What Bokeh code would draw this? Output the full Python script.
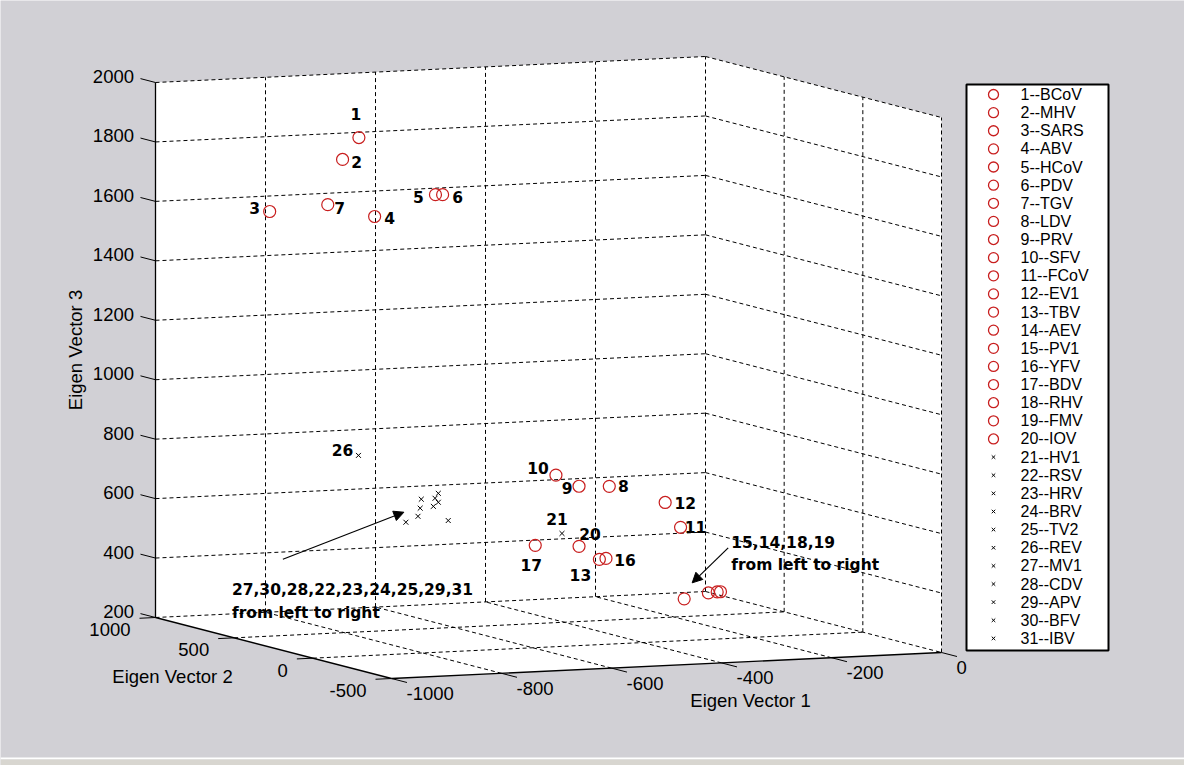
import numpy as np
from bokeh.plotting import figure
from bokeh.models import Range1d, Arrow, NormalHead
from bokeh.embed import file_html
from bokeh.resources import INLINE
from bokeh.core.properties import value

# ---------------- data ----------------
ids = list(range(1, 32))
names = ["BCoV", "MHV", "SARS", "ABV", "HCoV", "PDV", "TGV", "LDV", "PRV", "SFV",
         "FCoV", "EV1", "TBV", "AEV", "PV1", "YFV", "BDV", "RHV", "FMV", "IOV",
         "HV1", "RSV", "HRV", "BRV", "TV2", "REV", "MV1", "CDV", "APV", "BFV", "IBV"]
eigen1 = [-716, -760, -821, -716, -634, -621, -744, -461, -516, -558,
          -360, -388, -479, -195, -239, -467, -567, -179, -173, -516,
          -547, -717, -695, -692, -686, -774, -745, -719, -686, -723, -668]
eigen2 = [700, 650, 900, 600, 500, 500, 800, 0, 0, 0,
          -100, -100, 0, 300, 300, 0, 100, 300, 300, 0,
          0, 300, 300, 300, 300, 500, 300, 300, 300, 300, 300]
eigen3 = [1831, 1768, 1564, 1579, 1659, 1658, 1594, 731, 736, 777,
          598, 684, 487, 308, 292, 489, 528, 310, 310, 534,
          580, 669, 643, 670, 686, 794, 594, 639, 656, 612, 593]
n_circle = 20  # first 20 viruses drawn as circles, the rest as crosses

x_ticks = [-1000, -800, -600, -400, -200, 0]
y_ticks = [-500, 0, 500, 1000]
z_ticks = [200, 400, 600, 800, 1000, 1200, 1400, 1600, 1800, 2000]
X_LIM = (-1000, 0)
Y_LIM = (-500, 1000)
Z_LIM = (200, 2000)

cluster_a = [27, 30, 28, 22, 23, 24, 25, 29, 31]
cluster_b = [15, 14, 18, 19]

# labelled points and their label offsets (screen px)
label_ids = [1, 2, 3, 4, 5, 6, 7, 8, 9, 10, 11, 12, 13, 16, 17, 20, 21, 26]
label_dx = [-3, 14, -15, 15, -17, 15, 12, 14, -12, -18, 15, 20, -19, 19, -4, 11, -5, -16]
label_dy = [-24, 3, -4, 1, 2, 2, 3, 0, 2, -7, 0, 1, 16, 2, 20, -12, -14, -5]

# ---------------- projection (MATLAB-like 3-D view) ----------------
ORIGIN = (391.0, 678.0)
EU = (550.0, -26.0)
EV = (-236.0, -61.0)
EW = (0.0, -535.0)


def P(x, y, z):
    x = np.asarray(x, float); y = np.asarray(y, float); z = np.asarray(z, float)
    u = (x - X_LIM[0]) / (X_LIM[1] - X_LIM[0])
    v = (y - Y_LIM[0]) / (Y_LIM[1] - Y_LIM[0])
    w = (z - Z_LIM[0]) / (Z_LIM[1] - Z_LIM[0])
    sx = ORIGIN[0] + u * EU[0] + v * EV[0] + w * EW[0]
    sy = ORIGIN[1] + u * EU[1] + v * EV[1] + w * EW[1]
    return sx, sy


GRAY = "#d1d0d5"
RED = "#c81e1e"
TICK_FONT = value("Liberation Sans")
BOLD_FONT = value("DejaVu Sans")

W, H = 1184, 765
p = figure(width=W, height=H, x_range=Range1d(0, W), y_range=Range1d(H, 0),
           output_backend="svg", toolbar_location=None, x_axis_type=None, y_axis_type=None,
           min_border=0, background_fill_color=GRAY, border_fill_color=GRAY)
p.grid.visible = False
p.outline_line_color = None

xmin, xmax = X_LIM
ymin, ymax = Y_LIM
zmin, zmax = Z_LIM

# white back planes
corners = [(xmin, ymax, zmax), (xmax, ymax, zmax), (xmax, ymin, zmax),
           (xmax, ymin, zmin), (xmin, ymin, zmin), (xmin, ymax, zmin)]
hx, hy = zip(*[P(*c) for c in corners])
p.patch(list(map(float, hx)), list(map(float, hy)), fill_color="white", line_color=None)

# grid lines
gx, gy = [], []


def seg(a, b, xs, ys):
    pa, pb = P(*a), P(*b)
    xs.append([float(pa[0]), float(pb[0])])
    ys.append([float(pa[1]), float(pb[1])])


for zt in z_ticks:
    seg((xmin, ymax, zt), (xmax, ymax, zt), gx, gy)
    seg((xmax, ymax, zt), (xmax, ymin, zt), gx, gy)
for xt in x_ticks[1:]:
    seg((xt, ymax, zmin), (xt, ymax, zmax), gx, gy)
for yt in y_ticks[:-1]:
    seg((xmax, yt, zmin), (xmax, yt, zmax), gx, gy)
for xt in x_ticks[1:-1]:
    seg((xt, ymin, zmin), (xt, ymax, zmin), gx, gy)
for yt in y_ticks[1:-1]:
    seg((xmin, yt, zmin), (xmax, yt, zmin), gx, gy)
p.multi_line(gx, gy, line_color="black", line_width=1, line_dash="4 3")

# axis lines
ax, ay = [], []
seg((xmin, ymax, zmin), (xmin, ymax, zmax), ax, ay)
seg((xmin, ymax, zmin), (xmin, ymin, zmin), ax, ay)
seg((xmin, ymin, zmin), (xmax, ymin, zmin), ax, ay)
p.multi_line(ax, ay, line_color="black", line_width=1.3)

# ticks
nu = np.hypot(*EU); nv = np.hypot(*EV)
du = (EU[0] / nu, EU[1] / nu)
dv = (EV[0] / nv, EV[1] / nv)
tx, ty = [], []
zx, zy = P([xmin] * len(z_ticks), [ymax] * len(z_ticks), z_ticks)
for a, b in zip(zx, zy):
    tx.append([a, a + 15.5 * dv[0]]); ty.append([b, b + 15.5 * dv[1]])
yx, yy = P([xmin] * len(y_ticks), y_ticks, [zmin] * len(y_ticks))
for a, b in zip(yx, yy):
    tx.append([a, a - 16 * du[0]]); ty.append([b, b - 16 * du[1]])
xx, xy = P(x_ticks, [ymin] * len(x_ticks), [zmin] * len(x_ticks))
for a, b in zip(xx, xy):
    tx.append([a, a - 16 * dv[0]]); ty.append([b, b - 16 * dv[1]])
p.multi_line(tx, ty, line_color="black", line_width=1)

# tick labels
p.text(x=zx - 21.5, y=zy - 6, text=[str(t) for t in z_ticks], text_align="right",
       text_baseline="middle", text_font=TICK_FONT, text_font_size="18.5px", text_color="black")
p.text(x=yx - 25, y=yy + 12, text=[str(t) for t in y_ticks], text_align="right",
       text_baseline="middle", text_font=TICK_FONT, text_font_size="18.5px", text_color="black")
p.text(x=xx + 15, y=xy + 15, text=[str(t) for t in x_ticks], text_align="left",
       text_baseline="middle", text_font=TICK_FONT, text_font_size="18.5px", text_color="black")

# axis titles
mx1, my1 = P((xmin + xmax) / 2, ymin, zmin)
mx2, my2 = P(xmin, (ymin + ymax) / 2, zmin)
mx3, my3 = P(xmin, ymax, (zmin + zmax) / 2)
p.text(x=[float(mx1) + 84], y=[float(my1) + 35], text=["Eigen Vector 1"], text_align="center",
       text_baseline="middle", text_font=TICK_FONT, text_font_size="18.5px")
p.text(x=[float(mx2) - 101], y=[float(my2) + 28], text=["Eigen Vector 2"], text_align="center",
       text_baseline="middle", text_font=TICK_FONT, text_font_size="18.5px")
p.text(x=[float(mx3) - 80], y=[float(my3)], text=["Eigen Vector 3"], text_align="center",
       text_baseline="middle", text_font=TICK_FONT, text_font_size="18.5px", angle=np.pi / 2)

# data points
sx, sy = P(eigen1, eigen2, eigen3)
p.scatter(sx[:n_circle], sy[:n_circle], marker="circle", size=12, fill_color=None,
          line_color=RED, line_width=1.2)
p.scatter(sx[n_circle:], sy[n_circle:], marker="x", size=7, line_color="black", line_width=1)

# point labels
li = [i - 1 for i in label_ids]
p.text(x=sx[li] + np.array(label_dx), y=sy[li] + np.array(label_dy),
       text=[str(i) for i in label_ids], text_align="center", text_baseline="middle",
       text_font=BOLD_FONT, text_font_style="bold", text_font_size="15.5px", text_color="black")

# group annotations
a0 = (float(sx[cluster_a[0] - 1]), float(sy[cluster_a[0] - 1]))
b0 = (float(sx[cluster_b[0] - 1]), float(sy[cluster_b[0] - 1]))
p.text(x=[a0[0] - 174, a0[0] - 174], y=[a0[1] + 67, a0[1] + 91],
       text=[",".join(map(str, cluster_a)), "from left to right"], text_align="left",
       text_baseline="middle", text_font=BOLD_FONT, text_font_style="bold", text_font_size="15.5px")
p.text(x=[b0[0] + 47, b0[0] + 47], y=[b0[1] - 57, b0[1] - 34],
       text=[",".join(map(str, cluster_b)), "from left to right"], text_align="left",
       text_baseline="middle", text_font=BOLD_FONT, text_font_style="bold", text_font_size="15.5px")
p.add_layout(Arrow(end=NormalHead(size=10, fill_color="black", line_color="black"),
                   x_start=a0[0] - 123, y_start=a0[1] + 37, x_end=a0[0] - 2, y_end=a0[1] - 10,
                   line_color="black", line_width=1.2))
p.add_layout(Arrow(end=NormalHead(size=10, fill_color="black", line_color="black"),
                   x_start=b0[0] + 44, y_start=b0[1] - 51, x_end=b0[0] + 8, y_end=b0[1] - 16,
                   line_color="black", line_width=1.2))

# legend (drawn)
row0, drow = 94.0, 18.13
rows = row0 + drow * np.arange(len(ids))
p.quad(left=[966], right=[1108], top=[rows[0] - 10], bottom=[rows[-1] + 12],
       fill_color="white", line_color="black", line_width=2)
p.scatter([993] * n_circle, rows[:n_circle], marker="circle", size=10, fill_color=None,
          line_color=RED, line_width=1.3)
p.scatter([993] * (len(ids) - n_circle), rows[n_circle:], marker="x", size=5,
          line_color="black", line_width=1)
p.text(x=[1020] * len(ids), y=rows, text=[f"{i}--{n}" for i, n in zip(ids, names)],
       text_align="left", text_baseline="middle", text_font=TICK_FONT, text_font_size="16px")

# bottom window strip
p.quad(left=[0], right=[W], top=[757], bottom=[759], fill_color="white", line_color=None)
p.quad(left=[0], right=[W], top=[759], bottom=[H], fill_color="#d8d6d0", line_color=None)

open("out.html", "w").write(file_html(p, INLINE))
